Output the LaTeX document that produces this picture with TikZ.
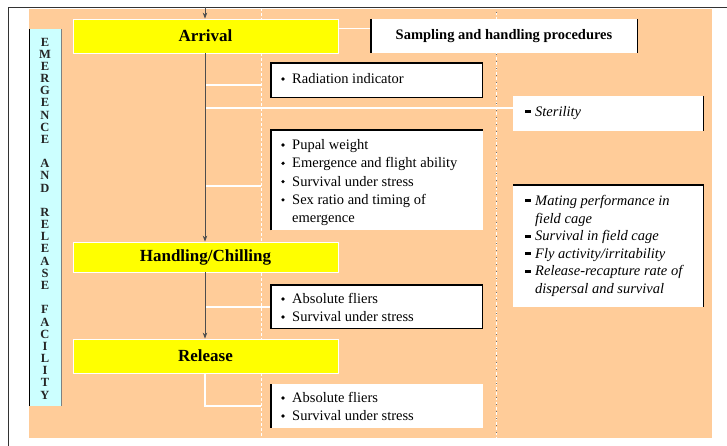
\documentclass[tikz,border=0pt]{standalone}
\usepackage{fontspec}
\setmainfont{Liberation Serif}
\usetikzlibrary{arrows.meta}
\definecolor{peach}{HTML}{FFCC99}
\definecolor{lcyan}{HTML}{CCFFFF}
\definecolor{yel}{HTML}{FFFF00}
\definecolor{trunkc}{HTML}{4D4D4D}
\tikzset{
  ybox/.style={fill=yel, draw=white, line width=0.8pt, minimum width=265pt, inner sep=0pt,
    font=\fontsize{17}{20}\selectfont\bfseries},
  wbox/.style={fill=white, draw=none, inner sep=0pt, anchor=north west},
  edge/.style={black, line width=1.4pt},
  txt/.style={anchor=base west, inner sep=0pt, font=\fontsize{14.5}{17}\selectfont},
  itxt/.style={anchor=base west, inner sep=0pt, font=\fontsize{14.5}{17}\selectfont\itshape},
  wline/.style={white, line width=1.1pt},
  trunk/.style={trunkc, line width=0.8pt},
  tip/.style={-{Stealth[length=6pt,width=4.5pt]}},
  letter/.style={inner sep=0pt, font=\fontsize{12.5}{13}\selectfont\bfseries, text=black!85},
}
\begin{document}
\begin{tikzpicture}[x=1pt,y=-1pt]
\useasboundingbox (0,0) rectangle (727,446);
% frame and background
\draw[black!80, line width=0.8pt] (8,446) -- (8,7) -- (727,7);
\fill[peach] (29,9) rectangle (712,438);
% dashed guide lines
\coordinate (d1) at (261,8);
\coordinate (d1b) at (261,438);
\coordinate (d2) at (496,12);
\coordinate (d2b) at (496,438);
\draw[white, line width=1pt, dash pattern=on 3pt off 2pt] (d1) -- (d1b);
\draw[white, line width=1pt, dash pattern=on 3pt off 2pt] (d2) -- (d2b);
\draw[black!55, line width=0.9pt, dash pattern=on 1pt off 6pt] (d2) -- (d2b);
% side bar
\node[fill=lcyan, inner sep=0pt, minimum width=32pt, minimum height=377pt, anchor=north west] (bar) at (29,29) {};
\draw[black, line width=1pt] (bar.north west) -- (bar.south west);
\draw[gray, line width=0.8pt] (bar.north east) -- (bar.south east);
\foreach \l [count=\i] in {E,M,E,R,G,E,N,C,E,{},A,N,D,{},R,E,L,E,A,S,E,{},F,A,C,I,L,I,T,Y}
  \node[letter] (let\i) at (45,{42+(\i-1)*12.17}) {\l};
% main stage boxes
\node[ybox, minimum height=34pt] (arrival) at (205.5,36) {Arrival};
\node[ybox, minimum height=30pt] (handling) at (205.5,257) {Handling/Chilling};
\node[ybox, minimum height=34pt] (release) at (205.5,356) {Release};
% side boxes
\node[wbox, minimum width=266pt, minimum height=34pt, anchor=center,
  font=\fontsize{14.5}{17}\selectfont\bfseries] (samp) at (504,36) {Sampling and handling procedures};
\node[wbox, minimum width=211pt, minimum height=34pt] (rad) at (271,63) {};
\node[wbox, minimum width=190pt, minimum height=35pt] (ster) at (513,96) {};
\node[wbox, minimum width=212pt, minimum height=100pt] (pup) at (271,130) {};
\node[wbox, minimum width=190pt, minimum height=122pt] (mat) at (513,185) {};
\node[wbox, minimum width=211pt, minimum height=43pt] (abs1) at (271,285) {};
\node[wbox, minimum width=212pt, minimum height=44pt] (abs2) at (271,384) {};
% connectors (white branches)
\coordinate (topin) at (205,7);
\coordinate (br1) at (205,85);
\coordinate (br2) at (205,108);
\coordinate (br3) at (205,186);
\coordinate (br4) at (205,307);
\coordinate (rel) at (205,406);
\draw[wline] ([yshift=-10pt]arrival.north east) -- ([yshift=-10pt]arrival.north east -| samp.west);
\draw[wline] (br1) -- (br1 -| d1);
\draw[wline] (br2) -- (br2 -| ster.west);
\draw[wline] (br3) -- (br3 -| d1);
\draw[wline] (br4) -- (br4 -| abs1.west);
\draw[wline] (release.south -| topin) -- (rel) -- (rel -| d1);
% trunk arrows
\draw[trunk,tip] (topin) -- (topin |- arrival.north);
\draw[trunk,tip] (arrival.south -| topin) -- (handling.north -| topin);
\draw[trunk,tip] (handling.south -| topin) -- (release.north -| topin);
% box edges
\draw[edge] (samp.north west) -- (samp.south west);
\draw[edge] (samp.north east) -- (samp.south east);
\draw[black, line width=1.2pt] (rad.north west) rectangle (rad.south east);
\draw[edge] (ster.north east) -- (ster.south east);
\draw[black, line width=1.2pt] (pup.south west) -- (pup.north west) -- (pup.north east);
\draw[edge] (mat.north west) -- (mat.north east) -- (mat.south east);
\draw[black, line width=1.2pt] (abs1.north west) rectangle (abs1.south east);
\draw[black, line width=1.2pt] (abs2.north west) -- (abs2.south west);
% left column texts
\foreach \y/\t [count=\i] in {83.5/Radiation indicator}{
  \fill[black] (283,\y-4.5) circle (1.8);
  \node[txt] (radt\i) at (292,\y) {\t};}
\foreach \y/\t [count=\i] in {149.5/Pupal weight, 167.8/Emergence and flight ability, 186.1/Survival under stress, 204.4/Sex ratio and timing of}{
  \fill[black] (283,\y-4.5) circle (1.8);
  \node[txt] (pupt\i) at (292,\y) {\t};}
\node[txt] (pupt5) at (292,222.7) {emergence};
\foreach \y/\t [count=\i] in {303.5/Absolute fliers, 321.5/Survival under stress}{
  \fill[black] (283,\y-4.5) circle (1.8);
  \node[txt] (absa\i) at (292,\y) {\t};}
\foreach \y/\t [count=\i] in {402.5/Absolute fliers, 420.5/Survival under stress}{
  \fill[black] (283,\y-4.5) circle (1.8);
  \node[txt] (absb\i) at (292,\y) {\t};}
% right column texts
\fill[black] (525,116.5-6) rectangle (531,116.5-3);
\node[itxt] (stert) at (535,116.5) {Sterility};
\foreach \y/\t [count=\i] in {205.5/{Mating performance in}, 240.7/{Survival in field cage}, 258.3/{Fly activity/irritability}, 275.9/{Release-recapture rate of}}{
  \fill[black] (525,\y-6) rectangle (531,\y-3);
  \node[itxt] (matt\i) at (535,\y) {\t};}
\node[itxt] (matc1) at (535,223.1) {field cage};
\node[itxt] (matc2) at (535,293.5) {dispersal and survival};
\end{tikzpicture}
\end{document}
